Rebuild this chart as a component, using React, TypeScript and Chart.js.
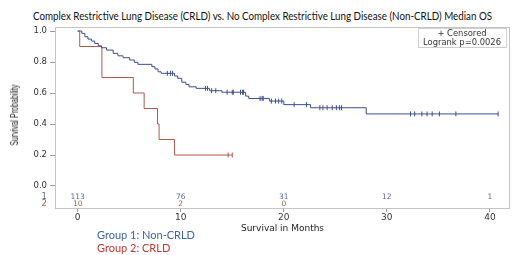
import React, { useEffect, useRef } from "react";
import { Chart, registerables } from "chart.js";

Chart.register(...registerables);

// ---------- Text ----------
const chartTitle =
  "Complex Restrictive Lung Disease (CRLD) vs. No Complex Restrictive Lung Disease (Non-CRLD) Median OS";
const group1Label = "Group 1: Non-CRLD";
const group2Label = "Group 2: CRLD";
const xAxisTitle = "Survival in Months";
const yAxisTitle = "Survival Probability";
const censorLabel = "+ Censored";
const logrankLabel = "Logrank p=0.0026";

// ---------- Axes ----------
const xTicks = [0, 10, 20, 30, 40];
const yTicks = [0, 0.2, 0.4, 0.6, 0.8, 1.0];

// ---------- Group 1 (Non-CRLD) KM steps ----------
const blueTimes = [
  0, 0.4, 0.7, 1.0, 1.35, 1.65, 2.0, 2.3, 2.8, 3.45, 3.9, 4.4, 5.05, 5.5, 5.85,
  7.2, 7.5, 7.8, 8.1, 9.4, 9.7, 10.1, 10.5, 10.8, 11.5, 12.8, 14.0, 16.3, 16.6,
  18.6, 20.0, 22.6, 28.0,
];
const blueSurv = [
  1, 0.985, 0.963, 0.948, 0.935, 0.92, 0.905, 0.892, 0.877, 0.856, 0.84, 0.828,
  0.813, 0.798, 0.785, 0.77, 0.755, 0.737, 0.727, 0.71, 0.695, 0.67, 0.655,
  0.64, 0.63, 0.615, 0.605, 0.58, 0.565, 0.548, 0.525, 0.505, 0.465,
];
const blueEnd = 40.8;
const blueCensor = [
  8.7, 9.0, 9.2, 12.4, 12.6, 13.0, 13.4, 14.5, 15.0, 15.1, 15.8, 16.0, 16.1,
  17.7, 17.9, 18.0, 18.8, 19.2, 19.5, 19.8, 21.0, 22.2, 23.5, 23.8, 24.2, 24.7,
  25.1, 25.4, 25.6, 32.3, 32.7, 33.4, 33.9, 34.4, 35.1, 36.7, 40.8,
];

// ---------- Group 2 (CRLD) KM steps ----------
const redTimes = [0, 0.2, 2.35, 5.4, 6.45, 7.75, 7.9, 9.4];
const redSurv = [1, 0.9, 0.7, 0.6, 0.5, 0.4, 0.3, 0.2];
const redEnd = 15.0;
const redCensor = [14.6, 15.0];

// ---------- Numbers at risk ----------
const riskTimes = [0, 10, 20, 30, 40];
const riskGroup1: (number | null)[] = [113, 76, 31, 12, 1];
const riskGroup2: (number | null)[] = [10, 2, 0, null, null];
const riskRowLabels = ["1", "2"];

// ---------- Styling ----------
const BLUE = "#3b4f8e";
const RED = "#b4554a";
const RISK_BLUE = "#5a6aa6";
const RISK_RED = "#b05a4c";
const ROW_Y = [-0.071, -0.116];

function stepData(times: number[], surv: number[], end: number) {
  const pts = times.map((t, i) => ({ x: t, y: surv[i] }));
  pts.push({ x: end, y: surv[surv.length - 1] });
  return pts;
}
function survAt(times: number[], surv: number[], t: number) {
  let s = surv[0];
  for (let i = 0; i < times.length; i++) if (times[i] <= t) s = surv[i];
  return s;
}

const overlayPlugin = {
  id: "kmOverlay",
  beforeDatasetsDraw(chart: any) {
    const { ctx, chartArea: ca } = chart;
    ctx.save();
    ctx.strokeStyle = "#c4c4c4";
    ctx.lineWidth = 1;
    ctx.strokeRect(
      Math.round(ca.left) + 0.5,
      Math.round(ca.top) + 0.5,
      Math.round(ca.right - ca.left) - 1,
      Math.round(ca.bottom - ca.top)
    );
    ctx.restore();
  },
  afterDatasetsDraw(chart: any) {
    const { ctx, chartArea: ca, scales } = chart;
    const xs = scales.x;
    const ys = scales.y;
    ctx.save();
    // numbers at risk
    ctx.font = "7.5px 'DejaVu Sans'";
    ctx.textAlign = "center";
    ctx.textBaseline = "middle";
    riskTimes.forEach((t, i) => {
      const px = xs.getPixelForValue(t);
      if (riskGroup1[i] !== null) {
        ctx.fillStyle = RISK_BLUE;
        ctx.fillText(String(riskGroup1[i]), px, ys.getPixelForValue(ROW_Y[0]));
      }
      if (riskGroup2[i] !== null) {
        ctx.fillStyle = RISK_RED;
        ctx.fillText(String(riskGroup2[i]), px, ys.getPixelForValue(ROW_Y[1]));
      }
    });
    // censor / logrank box
    const bx = ca.right - 92;
    const by = ca.top + 1;
    const bw = 88;
    const bh = 19;
    ctx.fillStyle = "#ffffff";
    ctx.fillRect(bx, by, bw, bh);
    ctx.strokeStyle = "#cfcfcf";
    ctx.lineWidth = 1;
    ctx.strokeRect(Math.round(bx) + 0.5, Math.round(by) + 0.5, bw, bh);
    ctx.fillStyle = "#333";
    ctx.font = "8.4px 'DejaVu Sans'";
    ctx.fillText(censorLabel, bx + bw / 2, by + 6);
    ctx.fillText(logrankLabel, bx + bw / 2, by + 14.5);
    ctx.restore();
  },
};

export default function App() {
  const ref = useRef<HTMLCanvasElement | null>(null);

  useEffect(() => {
    if (!ref.current) return;
    const chart = new Chart(ref.current, {
      type: "line",
      data: {
        datasets: [
          {
            label: "Non-CRLD",
            data: stepData(blueTimes, blueSurv, blueEnd),
            stepped: true,
            borderColor: BLUE,
            borderWidth: 1,
            pointRadius: 0,
            fill: false,
          },
          {
            label: "CRLD",
            data: stepData(redTimes, redSurv, redEnd),
            stepped: true,
            borderColor: RED,
            borderWidth: 1,
            pointRadius: 0,
            fill: false,
          },
          {
            label: "Censored Non-CRLD",
            data: blueCensor.map((t) => ({ x: t, y: survAt(blueTimes, blueSurv, t) })),
            showLine: false,
            pointStyle: "line",
            rotation: 90,
            pointRadius: 2.5,
            borderColor: BLUE,
            borderWidth: 1,
          },
          {
            label: "Censored CRLD",
            data: redCensor.map((t) => ({ x: t, y: survAt(redTimes, redSurv, t) })),
            showLine: false,
            pointStyle: "line",
            rotation: 90,
            pointRadius: 2.5,
            borderColor: RED,
            borderWidth: 1,
          },
        ],
      },
      options: {
        animation: false,
        responsive: false,
        maintainAspectRatio: false,
        layout: { padding: { top: 27, right: 10, left: 0, bottom: 0 } },
        plugins: {
          legend: { display: false },
          title: { display: false },
          tooltip: { enabled: false },
        },
        scales: {
          x: {
            type: "linear",
            min: -2.2,
            max: 41.95,
            afterBuildTicks: (s: any) => {
              s.ticks = xTicks.map((v) => ({ value: v }));
            },
            afterFit: (s: any) => {
              s.height = 47;
            },
            border: { display: false },
            grid: {
              drawOnChartArea: false,
              tickLength: 4,
              tickColor: "#999",
            },
            ticks: {
              padding: 0,
              color: "#333",
              font: { family: "DejaVu Sans", size: 9 },
              maxRotation: 0,
            },
            title: {
              display: true,
              text: xAxisTitle,
              color: "#222",
              font: { family: "DejaVu Sans", size: 9 },
              padding: { top: 0, bottom: 21 },
            },
          },
          y: {
            type: "linear",
            min: -0.142,
            max: 1.026,
            afterBuildTicks: (s: any) => {
              s.ticks = [...ROW_Y.slice().reverse(), ...yTicks].map((v) => ({ value: v }));
            },
            afterFit: (s: any) => {
              s.width = 55;
            },
            border: { display: false },
            grid: {
              drawOnChartArea: false,
              tickLength: 5,
              tickColor: (c: any) => (c.tick && c.tick.value < 0 ? "rgba(0,0,0,0)" : "#999"),
            },
            ticks: {
              autoSkip: false,
              padding: 3,
              font: { family: "DejaVu Sans", size: 8.5 },
              color: (c: any) => {
                const v = c.tick ? c.tick.value : 0;
                if (v === ROW_Y[0]) return RISK_BLUE;
                if (v === ROW_Y[1]) return RISK_RED;
                return "#333";
              },
              callback: (value: any) => {
                const i = ROW_Y.indexOf(value);
                if (i >= 0) return riskRowLabels[i];
                return Number(value).toFixed(1);
              },
            },
            title: { display: false },
          },
        },
      },
      plugins: [overlayPlugin],
    });
    return () => chart.destroy();
  }, []);

  return (
    <div
      style={{
        position: "absolute",
        left: 0,
        top: 0,
        width: 520,
        height: 255,
        background: "#fff",
        overflow: "hidden",
      }}
    >
      <div
        style={{
          position: "absolute",
          left: 33,
          top: 9,
          fontFamily: "Lato, 'Noto Sans', sans-serif",
          fontSize: 11,
          color: "#111",
          whiteSpace: "nowrap",
          transform: "scaleX(0.89)",
          transformOrigin: "left top",
        }}
      >
        {chartTitle}
      </div>
      <canvas ref={ref} width={520} height={255} style={{ position: "absolute", left: 0, top: 0 }} />
      <div
        style={{
          position: "absolute",
          left: 15,
          top: 115,
          fontFamily: "'Liberation Sans', Arial, sans-serif",
          fontSize: 10,
          lineHeight: "12px",
          color: "#222",
          whiteSpace: "nowrap",
          transform: "translate(-50%, -50%) rotate(-90deg) scaleX(0.72)",
        }}
      >
        {yAxisTitle}
      </div>
      <div
        style={{
          position: "absolute",
          left: 97,
          top: 228,
          fontFamily: "Lato, 'Noto Sans', sans-serif",
          fontSize: 11,
          lineHeight: "13px",
          whiteSpace: "nowrap",
        }}
      >
        <div style={{ color: "#3a66a3" }}>{group1Label}</div>
        <div style={{ color: "#c0362c" }}>{group2Label}</div>
      </div>
    </div>
  );
}
